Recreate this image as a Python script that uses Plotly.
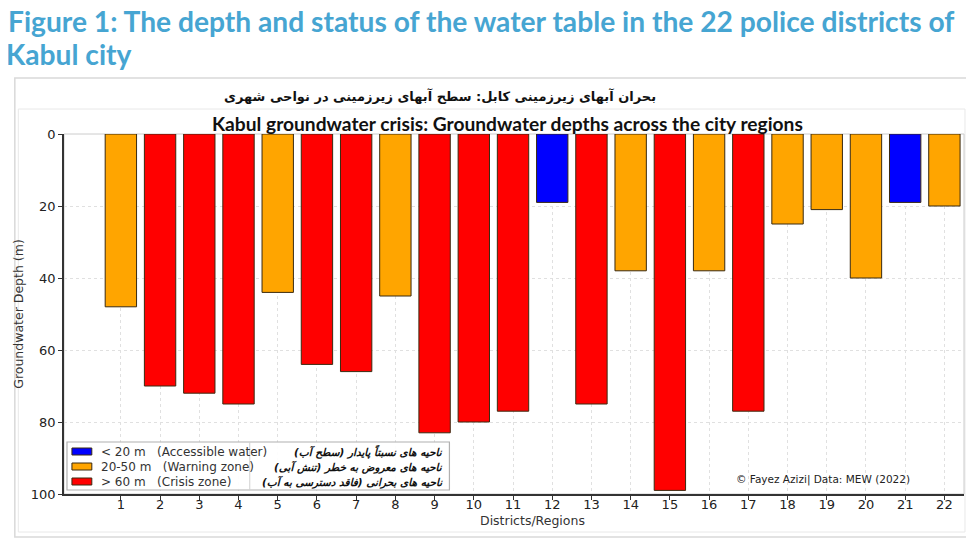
import plotly.graph_objects as go

# districts and groundwater depth (m)
districts = list(range(1, 23))
depths = [48, 70, 72, 75, 44, 64, 66, 45, 83, 80, 77, 19, 75, 38, 99, 38, 77, 25, 21, 40, 19, 20]
zones = ['warn', 'crisis', 'crisis', 'crisis', 'warn', 'crisis', 'crisis', 'warn', 'crisis', 'crisis', 'crisis',
         'ok', 'crisis', 'warn', 'crisis', 'warn', 'crisis', 'warn', 'warn', 'warn', 'ok', 'warn']

zone_keys = ['ok', 'warn', 'crisis']
zone_colors = {'ok': '#0000ff', 'warn': '#ffa500', 'crisis': '#ff0000'}
zone_names = {
    'ok': '<\u00a020\u00a0m\u00a0\u00a0\u00a0(Accessible water)',
    'warn': '20-50\u00a0m\u00a0\u00a0\u00a0(Warning zone)',
    'crisis': '>\u00a060\u00a0m\u00a0\u00a0\u00a0(Crisis zone)',
}
fa_legend = [
    'ناحیه های نسبتاً پایدار (سطح آب)',
    'ناحیه های معروض به خطر (تنش آبی)',
    'ناحیه های بحرانی (فاقد دسترسی به آب)',
]
fa_title = 'بحران آبهای زیرزمینی کابل: سطح آبهای زیرزمینی در نواحی شهری'

# page sits 8px in from the window corner, so work in window pixels
W, H = 966, 533
L, R, T, B = 50, 10, 126, 47
pw, ph = W - L - R, H - T - B


def px(x):
    return (x - 8 - L) / pw


def py(y):
    return (H - B - (y - 8)) / ph


fig = go.Figure()
for z in zone_keys:
    xs = [d for d, zz in zip(districts, zones) if zz == z]
    ys = [v for v, zz in zip(depths, zones) if zz == z]
    fig.add_trace(go.Bar(
        x=xs, y=ys, width=0.8,
        marker=dict(color=zone_colors[z], line=dict(color='#3a2a10', width=1)),
        name=zone_names[z], showlegend=False,
    ))

# frames around the picture
fig.add_shape(type='rect', xref='paper', yref='paper', x0=px(8.5), x1=px(969), y0=py(537), y1=py(78),
              line=dict(color='#d9d9d9', width=1.5), layer='below')
fig.add_shape(type='rect', xref='paper', yref='paper', x0=px(12), x1=px(965), y0=py(532), y1=py(109),
              line=dict(color='#e8e8e8', width=1), layer='below')
fig.add_shape(type='rect', xref='paper', yref='paper', x0=0, x1=1, y0=0, y1=1,
              line=dict(color='#cccccc', width=1), layer='below')

# legend box with divider
fig.add_shape(type='rect', xref='paper', yref='paper', x0=px(61), x1=px(446), y0=py(490), y1=py(442),
              line=dict(color='#b0b0b0', width=1.2), fillcolor='rgba(255,255,255,0.92)')
fig.add_shape(type='line', xref='paper', yref='paper', x0=px(245), x1=px(245), y0=py(490), y1=py(442),
              line=dict(color='#d0d0d0', width=1))
line_y = [451.5, 466.5, 481.5]
for z, yy, fa in zip(zone_keys, line_y, fa_legend):
    fig.add_shape(type='rect', xref='paper', yref='paper', x0=px(66), x1=px(86), y0=py(yy + 3.5), y1=py(yy - 3.5),
                  fillcolor=zone_colors[z], line=dict(color='#3a2a10', width=1))
    fig.add_annotation(xref='paper', yref='paper', x=px(93), y=py(yy), xanchor='left', yanchor='middle',
                       text=zone_names[z], showarrow=False,
                       font=dict(family='DejaVu Sans', size=12, color='#333333'))
    fig.add_annotation(xref='paper', yref='paper', x=px(442), y=py(yy), xanchor='right', yanchor='middle',
                       text='<b><i>' + fa + '</i></b>', showarrow=False,
                       font=dict(family='DejaVu Sans', size=10.5, color='#111111'))

# heading, two lines
fig.update_layout(title=dict(
    text='Figure 1: The depth and status of the water table in the 22 police districts of',
    xref='container', yref='container', x=0, y=1, xanchor='left', yanchor='top',
    pad=dict(l=0, t=4, b=0, r=0),
    font=dict(family='Lato', size=28.2, color='#46a5d2', weight=700)))
fig.add_annotation(xref='paper', yref='paper', x=px(-2), y=py(54), xanchor='left', yanchor='middle',
                   text='Kabul city', showarrow=False,
                   font=dict(family='Lato', size=28.2, color='#46a5d2', weight=700))

fig.add_annotation(xref='paper', yref='paper', x=px(437), y=py(96), xanchor='center', yanchor='middle',
                   text='<b>' + fa_title + '</b>', showarrow=False,
                   font=dict(family='DejaVu Sans', size=13, color='#111111'))
fig.add_annotation(xref='paper', yref='paper', x=px(504), y=py(123), xanchor='center', yanchor='middle',
                   text='<b>Kabul groundwater crisis: Groundwater depths across the city regions</b>',
                   showarrow=False, font=dict(family='Lato', size=19.2, color='#111111'))
fig.add_annotation(xref='paper', yref='paper', x=px(530), y=py(520), xanchor='center', yanchor='middle',
                   text='Districts/Regions', showarrow=False,
                   font=dict(family='DejaVu Sans', size=12.5, color='#333333'))
fig.add_annotation(xref='paper', yref='paper', x=px(732), y=py(479), xanchor='left', yanchor='middle',
                   text='© Fayez Azizi| Data: MEW (2022)', showarrow=False,
                   font=dict(family='DejaVu Sans', size=10.5, color='#222222'))

fig.update_layout(
    width=W, height=H,
    margin=dict(l=L, r=R, t=T, b=B),
    paper_bgcolor='white', plot_bgcolor='white',
    barmode='overlay',
    font=dict(family='DejaVu Sans', color='#222222'),
    showlegend=False,
    xaxis=dict(range=[-0.45, 22.5], tickmode='array', tickvals=districts, ticks='outside', ticklen=4,
               ticklabelstandoff=-6,
               tickcolor='#333333', showline=True, linecolor='#333333', linewidth=1.5,
               showgrid=True, gridcolor='#e0e0e0', griddash='dot', gridwidth=1, zeroline=False,
               tickfont=dict(size=13, color='#222222')),
    yaxis=dict(range=[100, 0], tickvals=[0, 20, 40, 60, 80, 100], ticks='outside', ticklen=4,
               tickcolor='#333333', showline=True, linecolor='#333333', linewidth=1.5,
               showgrid=True, gridcolor='#e0e0e0', griddash='dot', gridwidth=1, zeroline=False,
               tickfont=dict(size=13, color='#222222'),
               title=dict(text='Groundwater Depth (m)', standoff=4, font=dict(size=12.5, color='#333333'))),
)

fig.write_html("out.html")
